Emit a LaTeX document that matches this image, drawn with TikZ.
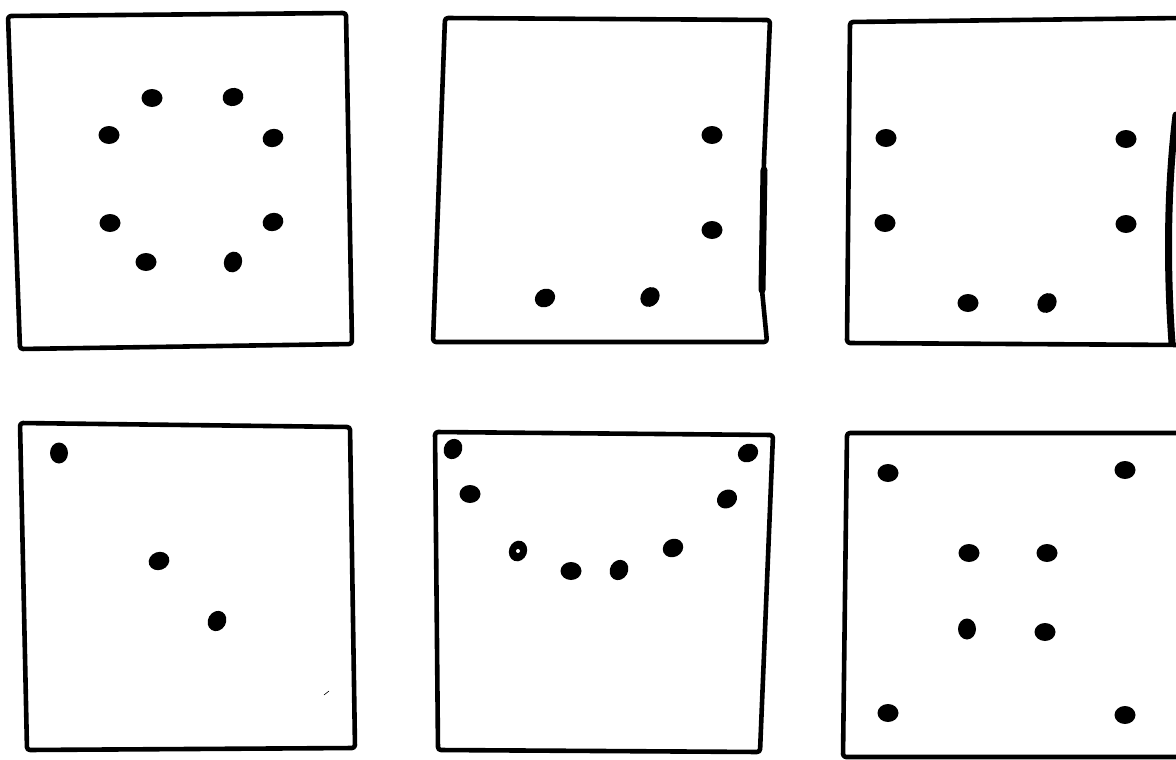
\documentclass[tikz,border=0pt]{standalone}
\usetikzlibrary{shapes.geometric}
\tikzset{
    sketch/.style     = {x=1pt, y=-1pt},
    frame/.style      = {line width=4.6pt, line join=round, line cap=round,
                         rounded corners=3pt},
    heavy edge/.style = {line width=7pt, line cap=round},
    dot/.style        = {ellipse, fill, inner sep=0pt,
                         minimum width=21pt, minimum height=18pt},
    hole/.style       = {circle, fill=white, inner sep=0pt, minimum size=4pt}
}

\begin{document}
\begin{tikzpicture}[sketch]
\useasboundingbox (0,0) rectangle (1176,760);

% ================= Frames =================
\draw[frame] (8,16) -- (346,13) -- (352,344) -- (20,349) -- cycle;
\draw[frame] (445,18) -- (770,20) -- (764,160) -- (762,290) -- (767,342)
    -- (433,342) -- cycle;
\draw[heavy edge] (764,170) -- (762,290);
\draw[frame] (1182,18) -- (850,22) -- (847,343) -- (1182,345);
\draw[heavy edge] (1176,115) .. controls (1168,180) and (1166,260) .. (1172,343);
\draw[frame] (20,423) -- (350,427) -- (355,748) -- (27,750) -- cycle;
\draw[frame] (435,432) -- (773,435) -- (760,752) -- (438,750) -- cycle;
\draw[frame] (1182,433) -- (847,433) -- (843,757) -- (1182,757);
\draw[semithick] (324,695) -- (329,691);

% ================= Ring (top left) =================
\node[dot] (r1) at (152,98)  {};
\node[dot, rotate=15] (r2) at (233,97) {};
\node[dot] (r3) at (109,135) {};
\node[dot, rotate=20] (r4) at (273,138) {};
\node[dot] (r5) at (110,223) {};
\node[dot, rotate=20] (r6) at (273,222) {};
\node[dot] (r7) at (146,262) {};
\node[dot, rotate=70] (r8) at (233,262) {};

% ================= Corner (top middle) =================
\node[dot] (k1) at (712,135) {};
\node[dot] (k2) at (712,230) {};
\node[dot, rotate=30] (k3) at (545,298) {};
\node[dot, rotate=50] (k4) at (650,297) {};

% ================= Cup (top right) =================
\node[dot] (u1) at (886,138)  {};
\node[dot] (u2) at (1126,139) {};
\node[dot] (u3) at (885,223)  {};
\node[dot] (u4) at (1126,224) {};
\node[dot] (u5) at (968,303)  {};
\node[dot, rotate=50] (u6) at (1047,303) {};

% ================= Diagonal (bottom left) =================
\node[dot, rotate=90] (d1) at (59,453) {};
\node[dot, rotate=20] (d2) at (159,561) {};
\node[dot, rotate=60] (d3) at (217,621) {};

% ================= Arc (bottom middle) =================
\node[dot, rotate=60] (a1) at (453,449) {};
\node[dot, rotate=30] (a2) at (748,453) {};
\node[dot] (a3) at (470,494) {};
\node[dot, rotate=35] (a4) at (727,499) {};
\node[dot, rotate=70] (a5) at (518,551) {};
\node[hole] at (a5) {};
\node[dot] (a6) at (571,571) {};
\node[dot, rotate=60] (a7) at (619,570) {};
\node[dot, rotate=25] (a8) at (673,548) {};

% ================= Grid (bottom right) =================
\node[dot] (g1) at (888,473)  {};
\node[dot] (g2) at (1125,470) {};
\node[dot] (g3) at (969,553)  {};
\node[dot] (g4) at (1047,553) {};
\node[dot, rotate=90] (g5) at (967,629) {};
\node[dot] (g6) at (1045,632) {};
\node[dot] (g7) at (888,713)  {};
\node[dot] (g8) at (1125,715) {};

\end{tikzpicture}
\end{document}
